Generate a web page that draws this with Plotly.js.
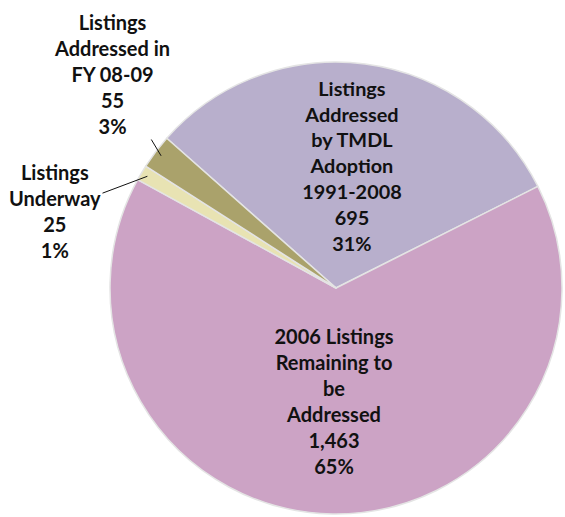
<!DOCTYPE html>
<html>
<head>
<meta charset="utf-8">
<script src="https://cdn.plot.ly/plotly-3.0.1.min.js"></script>
<style>
  html, body { margin: 0; padding: 0; background: #fff; }
  #chart { width: 565px; height: 517px; }
</style>
</head>
<body>
<div id="chart"></div>
<script>
// slice order is clockwise starting at the top-left edge of the TMDL slice
var labels = [
  'Listings<br>Addressed<br>by TMDL<br>Adoption<br>1991-2008',
  '2006 Listings<br>Remaining to<br>be<br>Addressed',
  'Listings<br>Underway',
  'Listings<br>Addressed in<br>FY 08-09'
];
var counts = [695, 1463, 25, 55];
var pctText = ['31%', '65%', '1%', '3%'];
var colors = ['#b8afcc', '#cca3c5', '#e8e3b3', '#aaa26b'];

var W = 565, H = 517;
var cx = 336, cy = 288, R = 226;   // pie centre and radius in px
var rot = -48.5;

var fontFam = 'Lato, "Open Sans", "Liberation Sans", sans-serif';

var trace = {
  type: 'pie',
  labels: labels,
  values: counts,
  customdata: pctText,
  sort: false,
  direction: 'clockwise',
  rotation: rot,
  marker: { colors: colors, line: { color: '#e4e4e4', width: 1.5 } },
  texttemplate: ['%{label}<br>%{value:,}<br>%{customdata}', '%{label}<br>%{value:,}<br>%{customdata}', '', ''],
  textposition: ['inside', 'inside', 'none', 'none'],
  insidetextorientation: 'horizontal',
  textfont: { family: fontFam, size: 20, color: '#111', weight: 'bold' },
  hoverinfo: 'label+value+percent',
  domain: { x: [(cx - R) / W, (cx + R) / W], y: [1 - (cy + R) / H, 1 - (cy - R) / H] }
};

// leader-line labels for the two thin slices
var total = counts.reduce(function (a, b) { return a + b; }, 0);
function midAngle(i) {
  var before = 0;
  for (var k = 0; k < i; k++) before += counts[k];
  return (rot + (before + counts[i] / 2) / total * 360) * Math.PI / 180;
}
function tip(i) {
  var a = midAngle(i);
  return [cx + 0.97 * R * Math.sin(a), cy - 0.97 * R * Math.cos(a)];
}
var textPos = { 2: [55, 211], 3: [112, 74] };

var annotations = [2, 3].map(function (i) {
  var t = tip(i);
  return {
    xref: 'paper', yref: 'paper',
    x: t[0] / W, y: 1 - t[1] / H,
    ax: textPos[i][0] - t[0], ay: textPos[i][1] - t[1],
    text: labels[i] + '<br>' + counts[i].toLocaleString('en-US') + '<br>' + pctText[i],
    showarrow: true, arrowhead: 0, arrowwidth: 1, arrowcolor: '#111',
    font: { family: fontFam, size: 20, color: '#111', weight: 'bold' },
    align: 'center'
  };
});

var layout = {
  width: W, height: H,
  margin: { l: 0, r: 0, t: 0, b: 0 },
  showlegend: false,
  paper_bgcolor: '#fff',
  annotations: annotations
};

Plotly.newPlot('chart', [trace], layout, { displayModeBar: false });
</script>
</body>
</html>
